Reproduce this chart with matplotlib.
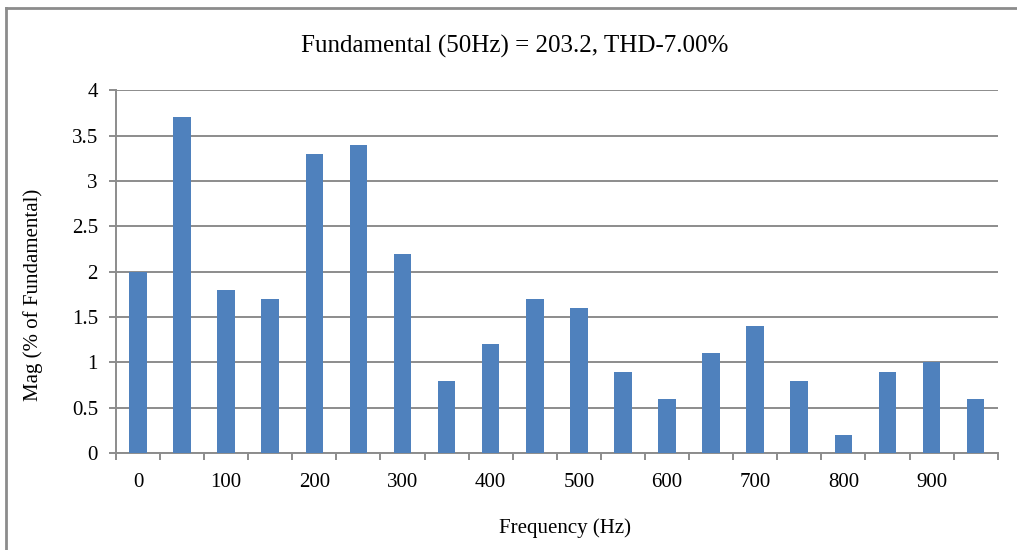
import numpy as np
import matplotlib.pyplot as plt
from matplotlib.lines import Line2D

freqs = [0, 50, 100, 150, 200, 250, 300, 350, 400, 450,
         500, 550, 600, 650, 700, 750, 800, 850, 900, 950]
mags = [2.0, 3.7, 1.8, 1.7, 3.3, 3.4, 2.2, 0.8, 1.2, 1.7,
        1.6, 0.9, 0.6, 1.1, 1.4, 0.8, 0.2, 0.9, 1.0, 0.6]
yticks = [0, 0.5, 1, 1.5, 2, 2.5, 3, 3.5, 4]

plt.rcParams['font.family'] = ['Liberation Serif', 'DejaVu Serif']

fig = plt.figure(figsize=(10.17, 5.5), dpi=100)
ax = fig.add_axes([0.114, 0.176, 0.867, 0.66])

x = np.arange(len(freqs))
ax.bar(x, mags, width=0.4, color='#4F81BD', zorder=3)

ax.set_xlim(-0.5, len(freqs) - 0.5)
ax.set_ylim(0, 4)
ax.set_yticks(yticks)
ax.set_yticklabels(['%g' % v for v in yticks], fontsize=15)
ax.yaxis.grid(True, color='#8c8c8c', linewidth=1.4, zorder=0)

# tick marks at category boundaries, labels every other category
ax.set_xticks(np.arange(-0.5, len(freqs), 1.0))
ax.set_xticklabels([])
ax.set_xticks(x[::2], minor=True)
ax.set_xticklabels([str(f) for f in freqs[::2]], minor=True, fontsize=15)
ax.tick_params(axis='x', which='major', length=5, color='#8c8c8c', width=1.4)
ax.tick_params(axis='x', which='minor', length=0, pad=14)
ax.tick_params(axis='y', length=5, color='#8c8c8c', width=1.4, pad=8)

for s in ['top', 'right']:
    ax.spines[s].set_visible(False)
for s in ['left', 'bottom']:
    ax.spines[s].set_color('#8c8c8c')
    ax.spines[s].set_linewidth(1.4)

ax.set_title('Fundamental (50Hz) = 203.2, THD-7.00%', fontsize=18, pad=27, x=0.452)
ax.set_xlabel('Frequency (Hz)', fontsize=15)
ax.xaxis.set_label_coords(0.509, -0.18)
ax.set_ylabel('Mag (% of Fundamental)', fontsize=15)
ax.yaxis.set_label_coords(-0.083, 0.435)

# outer border (left and top only visible)
fig.add_artist(Line2D([0.006, 0.006], [0, 0.986], color='#8c8c8c', linewidth=2,
                      transform=fig.transFigure))
fig.add_artist(Line2D([0.006, 1], [0.986, 0.986], color='#8c8c8c', linewidth=2,
                      transform=fig.transFigure))

fig.savefig('out.png', dpi=100)
